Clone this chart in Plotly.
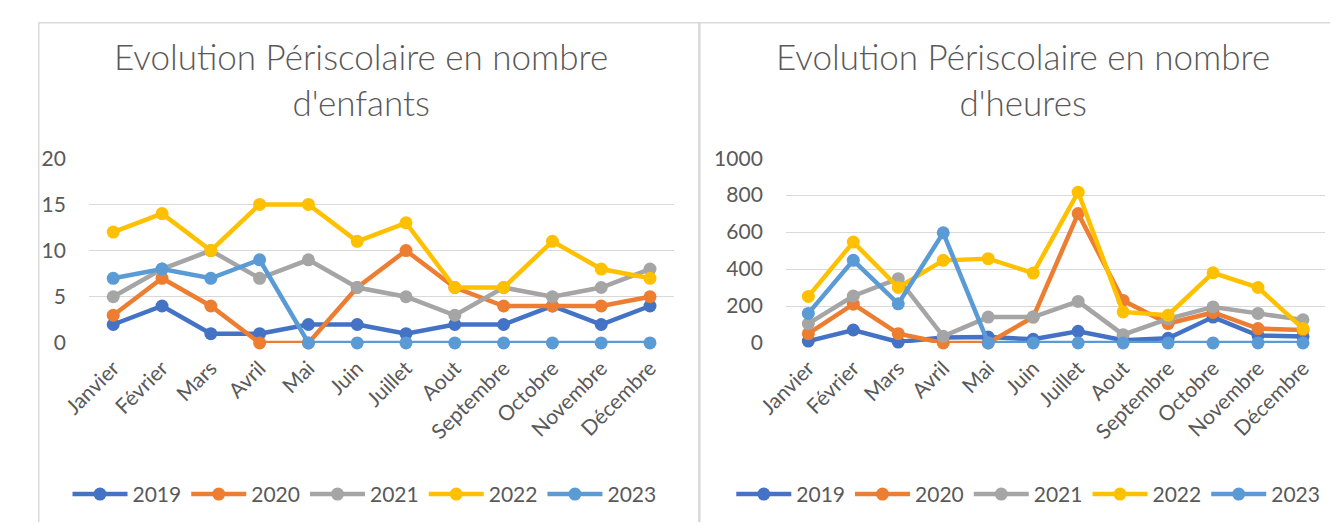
import plotly.graph_objects as go

W, H = 1338, 525

mois = ['Janvier', 'Février', 'Mars', 'Avril', 'Mai', 'Juin', 'Juillet',
        'Aout', 'Septembre', 'Octobre', 'Novembre', 'Décembre']
annees = ['2019', '2020', '2021', '2022', '2023']
couleurs = ['#4472C4', '#ED7D31', '#A5A5A5', '#FFC000', '#5B9BD5']

########## Nombre d'enfants ##########
enfants_2019 = [2, 4, 1, 1, 2, 2, 1, 2, 2, 4, 2, 4]
enfants_2020 = [3, 7, 4, 0, 0, 6, 10, 6, 4, 4, 4, 5]
enfants_2021 = [5, 8, 10, 7, 9, 6, 5, 3, 6, 5, 6, 8]
enfants_2022 = [12, 14, 10, 15, 15, 11, 13, 6, 6, 11, 8, 7]
enfants_2023 = [7, 8, 7, 9, 0, 0, 0, 0, 0, 0, 0, 0]

########## Nombre d'heures ##########
heures_2019 = [10, 70, 5, 30, 32, 20, 63, 15, 25, 140, 40, 35]
heures_2020 = [50, 210, 50, 0, 0, 140, 700, 230, 105, 165, 78, 70]
heures_2021 = [105, 254, 348, 36, 140, 140, 225, 45, 130, 195, 160, 125]
heures_2022 = [252, 546, 300, 447, 456, 378, 816, 168, 150, 380, 300, 78]
heures_2023 = [160, 447, 212, 596, 0, 0, 0, 0, 0, 0, 0, 0]

enfants = [enfants_2019, enfants_2020, enfants_2021, enfants_2022, enfants_2023]
heures = [heures_2019, heures_2020, heures_2021, heures_2022, heures_2023]

FONT = 'Lato'
GRIS = '#595959'

fig = go.Figure()

for serie, xa, ya, leg in [(enfants, 'x', 'y', 'legend'), (heures, 'x2', 'y2', 'legend2')]:
    for annee, vals, c in zip(annees, serie, couleurs):
        fig.add_trace(go.Scatter(
            x=mois, y=vals, name=annee, xaxis=xa, yaxis=ya, legend=leg,
            mode='lines+markers',
            line=dict(color=c, width=4.5),
            marker=dict(color=c, size=13),
            cliponaxis=False,
        ))


# positions en pixels de la figure
def fx(p):
    return min(max(p / W, 0), 1)


def fy(p):
    return min(max(1 - p / H, 0), 1)


axe_x = dict(
    type='category', range=[-0.5, len(mois) - 0.5],
    showgrid=False, zeroline=False, showline=False,
    tickangle=-45, tickfont=dict(family=FONT, size=21, color=GRIS),
    ticks='', ticklabelstandoff=8, fixedrange=True,
)
axe_y = dict(
    showgrid=True, gridcolor='#D9D9D9', gridwidth=1, zeroline=False,
    showline=False, tickfont=dict(family=FONT, size=21, color=GRIS),
    ticklabelstandoff=22, domain=[fy(337), fy(143)], fixedrange=True,
)
legende = dict(orientation='h', yanchor='middle', xanchor='center', y=fy(496),
               font=dict(family=FONT, size=21, color=GRIS),
               itemwidth=55, bgcolor='rgba(0,0,0,0)')
titre = dict(xref='paper', yref='paper', showarrow=False, xanchor='center', yanchor='middle',
             y=fy(60), font=dict(family=FONT, size=35, color=GRIS, weight=300))

fig.update_layout(
    width=W, height=H, autosize=False,
    margin=dict(l=0, r=0, t=0, b=0),
    paper_bgcolor='white', plot_bgcolor='white',
    font=dict(family=FONT, color=GRIS),
    xaxis=dict(axe_x, domain=[fx(52), fx(651)], anchor='y'),
    xaxis2=dict(axe_x, domain=[fx(765), fx(1317)], anchor='y2'),
    yaxis=dict(axe_y, range=[0, 20], dtick=5, anchor='x'),
    yaxis2=dict(axe_y, range=[0, 1000], dtick=200, anchor='x2'),
    legend=dict(legende, x=fx(334)),
    legend2=dict(legende, x=fx(1013)),
    annotations=[
        dict(titre, text="Evolution Périscolaire en nombre<br>d'enfants", x=fx(330)),
        dict(titre, text="Evolution Périscolaire en nombre<br>d'heures", x=fx(1008)),
    ],
    shapes=[
        dict(type='line', xref='paper', yref='paper', x0=fx(0.5), x1=1, y0=fy(0.75), y1=fy(0.75),
             line=dict(color='#D9D9D9', width=1.5)),
        dict(type='line', xref='paper', yref='paper', x0=fx(0.75), x1=fx(0.75), y0=0, y1=fy(0.75),
             line=dict(color='#D9D9D9', width=1.5)),
        dict(type='line', xref='paper', yref='paper', x0=fx(676.5), x1=fx(676.5), y0=0, y1=fy(0.75),
             line=dict(color='#D9D9D9', width=2.5)),
    ],
)

fig.write_html("out.html")
